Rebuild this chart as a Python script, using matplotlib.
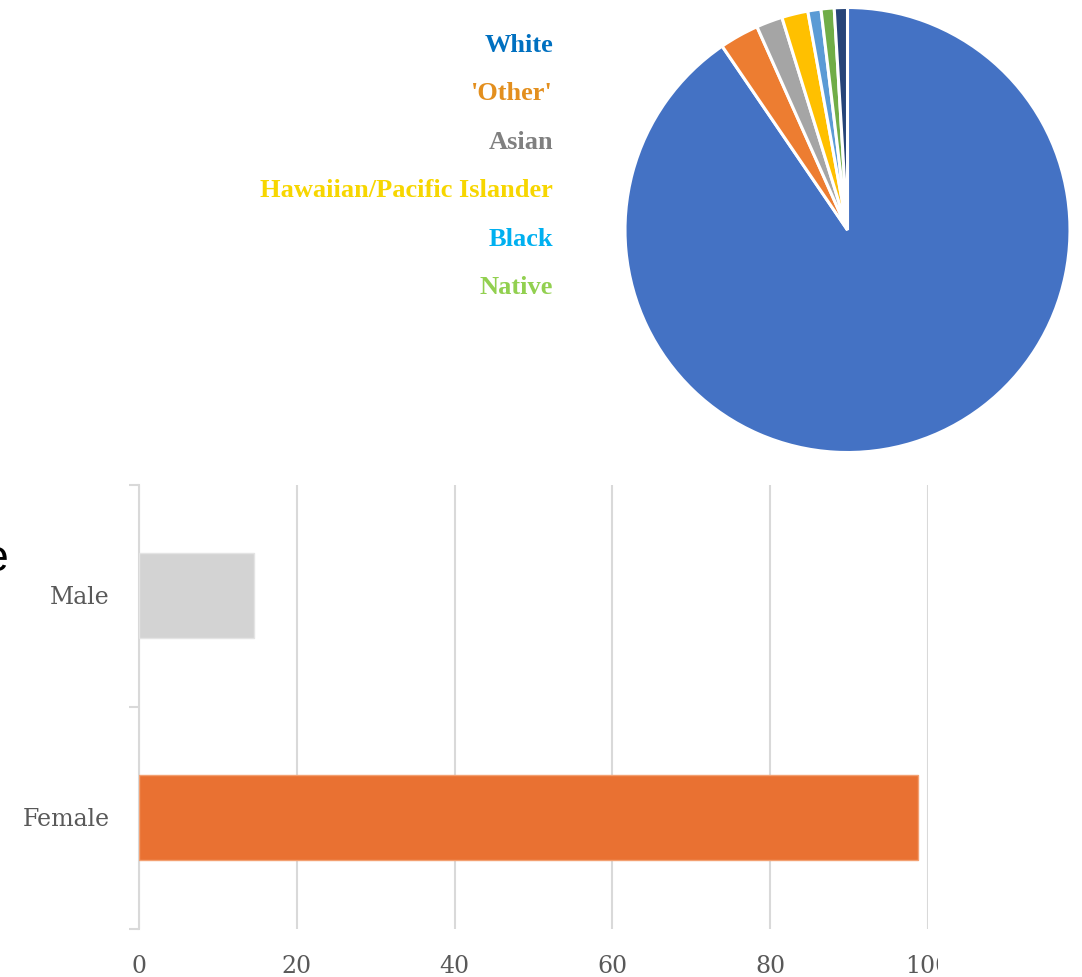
import matplotlib.pyplot as plt
from matplotlib.patches import Rectangle

# ethnicity breakdown (pie) and gender counts (bars)
eth_labels = ['White', "'Other'", 'Asian', 'Hawaiian/Pacific Islander', 'Black', 'Native']
eth_counts = [95, 3, 2, 2, 1, 1, 1]
pie_colors = ['#4472C4', '#ED7D31', '#A5A5A5', '#FFC000', '#5B9BD5', '#70AD47', '#264478']
label_colors = ['#0070C0', '#E38F1E', '#808080', '#F7D600', '#00B0F0', '#92D050']

genders = ['Female', 'Male']
gender_counts = [98.7, 14.6]
bar_colors = ['#E97132', '#D3D3D3']
bar_edges = ['#F3A071', '#E4E4E4']
xticks = [0, 20, 40, 60, 80, 100]

W, H = 1082, 977
fig = plt.figure(figsize=(W / 100, H / 100), dpi=100)

def fx(px):
    return px / W

def fy(py):
    return 1 - py / H

# pie
cx, cy, r = 847.5, 230, 222.5
axp = fig.add_axes([fx(cx - r), fy(cy + r), 2 * r / W, 2 * r / H])
axp.pie(eth_counts, colors=pie_colors, startangle=90, counterclock=False,
        wedgeprops=dict(edgecolor='white', linewidth=2.2))
axp.set_xlim(-1, 1)
axp.set_ylim(-1, 1)

# coloured labels to the left of the pie
for i, (lab, col) in enumerate(zip(eth_labels, label_colors)):
    fig.text(fx(553), fy(45 + i * 48.6), lab, ha='right', va='center',
             color=col, fontsize=19, fontweight='bold', family='Liberation Serif')

# horizontal bars
axb = fig.add_axes([fx(139), fy(928.5), 789 / W, (928.5 - 484.5) / H])
ypos = list(range(len(genders)))
axb.barh(ypos, gender_counts, height=0.38, color=bar_colors,
         edgecolor=bar_edges, linewidth=1, zorder=3)
axb.set_xlim(0, 100)
axb.set_ylim(-0.5, 1.5)
axb.set_xticks(xticks)
axb.set_xticklabels([str(t) for t in xticks])
axb.set_yticks(ypos)
axb.set_yticklabels(genders)
axb.set_yticks([-0.5, 0.5, 1.5], minor=True)
axb.grid(axis='x', color='#D9D9D9', linewidth=1.5, zorder=0)
for s in ['top', 'right', 'bottom']:
    axb.spines[s].set_visible(False)
axb.spines['left'].set_color('#D9D9D9')
axb.spines['left'].set_linewidth(1.5)
axb.tick_params(axis='x', length=0, pad=19, labelsize=17, labelcolor='#595959')
axb.tick_params(axis='y', which='major', length=0, pad=21, labelsize=17, labelcolor='#595959')
axb.tick_params(axis='y', which='minor', length=7, width=1.5, color='#D9D9D9', direction='out')
for t in axb.get_xticklabels() + axb.get_yticklabels():
    t.set_family('DejaVu Serif')

# right side of the lower panel is cut off
fig.add_artist(Rectangle((fx(938), 0), 1 - fx(938), fy(460), transform=fig.transFigure,
                         facecolor='white', edgecolor='none', zorder=10))

# fragment of a heading at the left edge
fig.text(fx(8), fy(571), 'e', ha='right', va='baseline', fontsize=32,
         family='Liberation Sans', color='black')

fig.savefig('out.png', dpi=100)
